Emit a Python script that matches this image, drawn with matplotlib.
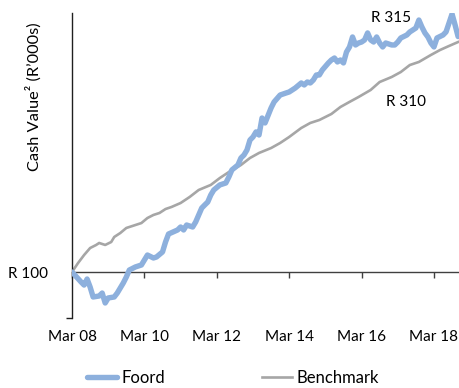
import matplotlib
matplotlib.use("Agg")
import matplotlib.pyplot as plt

plt.rcParams['font.family'] = ['Lato', 'DejaVu Sans']

# Months since March 2008 and cumulative value of R100 invested (R'000s)
foord_months = [0, 3, 4, 5, 6, 7, 9, 10, 11, 12, 14, 15, 17, 18, 19, 21, 23, 25, 27, 28,
                30, 31, 32, 35, 36, 37, 38, 40, 41, 43, 44, 45, 46, 47, 49, 51, 52, 53,
                55, 56, 57, 58, 59, 60, 61, 62, 63, 64, 66, 67, 69, 71, 72, 74, 76, 77,
                78, 79, 80, 81, 82, 83, 85, 86, 87, 88, 89, 90, 91, 92, 93, 94, 95, 96,
                97, 98, 99, 100, 101, 102, 103, 104, 106, 107, 108, 109, 111, 112, 114,
                115, 116, 117, 118, 119, 120, 121, 123, 124, 125, 126, 127, 128]
foord_values = [100.0, 90.9, 88.1, 93.6, 86.3, 77.2, 78.1, 80.8, 71.7, 76.3, 77.2, 80.8,
                90.0, 95.4, 101.8, 104.6, 106.4, 115.5, 112.8, 113.7, 118.3, 127.4, 134.7,
                138.4, 141.1, 138.4, 142.9, 141.1, 145.7, 158.4, 161.2, 163.9, 170.3,
                174.9, 179.5, 181.3, 186.8, 193.2, 197.7, 204.1, 206.8, 211.4, 220.5,
                223.3, 227.9, 225.1, 240.6, 236.1, 249.8, 255.3, 261.6, 263.5, 264.4,
                268.0, 272.6, 270.8, 273.5, 272.6, 275.3, 279.9, 279.9, 284.5, 290.9,
                293.6, 295.4, 291.8, 293.6, 290.9, 300.9, 305.5, 314.6, 307.3, 309.1,
                310.0, 311.9, 318.3, 311.9, 310.0, 314.6, 309.1, 305.5, 309.1, 307.3,
                307.3, 310.0, 313.7, 316.4, 319.2, 322.8, 330.1, 323.7, 318.3, 314.6,
                309.1, 305.5, 313.7, 316.4, 319.2, 327.4, 335.6, 325.6, 315.0]

bench_months = [0, 2, 4, 6, 8, 9, 11, 13, 14, 16, 18, 20, 23, 25, 27, 29, 31, 33, 36, 39,
                42, 46, 49, 52, 56, 59, 62, 66, 69, 72, 76, 79, 82, 86, 89, 92, 95, 99,
                102, 106, 109, 112, 115, 119, 122, 125, 128]
bench_values = [100.0, 108.2, 115.5, 121.9, 124.7, 126.5, 124.7, 127.4, 132.0, 135.6,
                140.2, 142.0, 144.7, 149.3, 152.1, 153.9, 157.5, 159.4, 163.0, 168.5,
                174.9, 179.5, 185.8, 191.3, 197.7, 204.1, 208.7, 213.2, 217.8, 223.3,
                231.5, 236.1, 238.8, 244.3, 250.7, 255.3, 259.8, 266.2, 273.5, 278.1,
                282.6, 289.0, 291.8, 298.2, 302.7, 306.4, 310.0]

tick_months = [0, 24, 48, 72, 96, 120]
tick_labels = ['Mar 08', 'Mar 10', 'Mar 12', 'Mar 14', 'Mar 16', 'Mar 18']

foord_color = '#8DB0DD'
bench_color = '#A6A6A6'
axis_color = '#404040'

fig = plt.figure(figsize=(4.59, 3.88), dpi=100)
ax = fig.add_axes([0.1569, 0.1804, 0.8431, 0.7861])

ax.plot(bench_months, bench_values, color=bench_color, lw=1.9, label='Benchmark',
        solid_joinstyle='round', zorder=2)
ax.plot(foord_months, foord_values, color=foord_color, lw=3.9, label='Foord',
        solid_joinstyle='round', solid_capstyle='round', zorder=3)

ax.set_xlim(0, 128.3)
ax.set_ylim(58, 336.5)

for side in ('top', 'right'):
    ax.spines[side].set_visible(False)
ax.spines['bottom'].set_position(('data', 100))
ax.spines['bottom'].set_color(axis_color)
ax.spines['left'].set_color('#202020')
ax.spines['bottom'].set_linewidth(1.0)
ax.spines['left'].set_linewidth(1.0)

ax.set_xticks(tick_months)
ax.set_xticklabels(tick_labels)
ax.tick_params(axis='x', direction='out', length=4, width=1, color=axis_color,
               pad=38, labelsize=11)

ax.set_yticks([100])
ax.set_yticklabels(['R 100'])
ax.set_yticks([58], minor=True)
ax.tick_params(axis='y', which='major', length=0, pad=17, labelsize=11)
ax.tick_params(axis='y', which='minor', length=4, width=1, color='#202020')

fig.text(34 / 459, 1 - 97 / 388, 'Cash Value² (R’000s)', rotation=90,
         ha='center', va='center', fontsize=11.8)

ax.annotate('R 315', xy=(foord_months[-1], foord_values[-1]), xycoords='data',
            xytext=(391 / 459, 1 - 17.5 / 388), textcoords='figure fraction',
            ha='center', va='center', fontsize=11)
ax.annotate('R 310', xy=(bench_months[-1], bench_values[-1]), xycoords='data',
            xytext=(406 / 459, 1 - 102.5 / 388), textcoords='figure fraction',
            ha='center', va='center', fontsize=11)

handles, labels = ax.get_legend_handles_labels()
fig.legend(handles[::-1], labels[::-1], loc='center', ncol=2,
           bbox_to_anchor=(233 / 459, 1 - 378 / 388), frameon=False,
           fontsize=12, handlelength=1.8, handletextpad=0.3, columnspacing=5.8)

fig.savefig('out.png', dpi=100)
